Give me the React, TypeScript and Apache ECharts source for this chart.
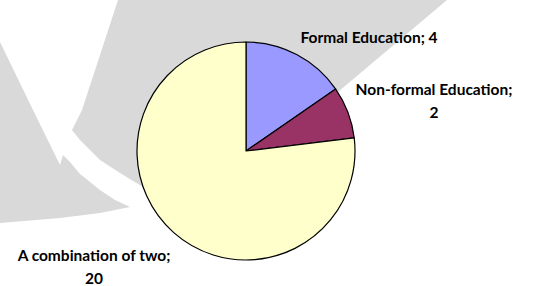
import React, { useEffect, useRef } from "react";
import * as echarts from "echarts";

const categories = ["Formal Education", "Non-formal Education", "A combination of two"];
const values = [4, 2, 20];
const colors = ["#9999ff", "#993366", "#ffffcc"];

export default function App() {
  const ref = useRef<HTMLDivElement>(null);
  useEffect(() => {
    document.body.style.margin = "0";
    const chart = echarts.init(ref.current!, null, { renderer: "svg" });
    const labelPos = [
      [369, 37],
      [434, 100],
      [94, 266],
    ];
    const gray = "#d9d9d9";
    chart.setOption({
      animation: false,
      backgroundColor: "#ffffff",
      graphic: [
        {
          type: "polygon",
          z: 0,
          silent: true,
          shape: {
            points: [
              [118, 0], [447, 0], [300, 124], [200, 200], [143, 187],
              [120, 173], [100, 160], [80, 140], [72, 130], [82, 110],
            ],
          },
          style: { fill: gray },
        },
        {
          type: "polygon",
          z: 0,
          silent: true,
          shape: {
            points: [
              [0, 42], [33, 110], [60, 165], [63, 155], [70, 162], [80, 174],
              [100, 190], [115, 200], [130, 207], [100, 213], [60, 218], [0, 223],
            ],
          },
          style: { fill: gray },
        },
      ],
      series: [
        {
          type: "pie",
          z: 2,
          center: [246, 151],
          radius: 109,
          startAngle: 90,
          clockwise: true,
          label: {
            show: true,
            position: "outside",
            alignTo: "none",
            overflow: "none",
            width: 300,
            color: "#000",
            fontFamily: "Lato",
            fontWeight: "bold",
            fontSize: 15.5,
            lineHeight: 23,
            align: "center",
            formatter: (p: any) =>
              p.dataIndex === 0 ? `${p.name}; ${p.value}` : `${p.name};\n${p.value}`,
          },
          labelLine: { show: false },
          labelLayout: (params: any) => {
            const pos = labelPos[params.dataIndex];
            return { x: pos[0], y: pos[1], align: "center", verticalAlign: "middle" };
          },
          itemStyle: { borderColor: "#000", borderWidth: 1.2 },
          emphasis: { disabled: true },
          data: categories.map((c, i) => ({
            name: c,
            value: values[i],
            itemStyle: { color: colors[i] },
          })),
        },
      ],
    });
    return () => chart.dispose();
  }, []);
  return <div ref={ref} style={{ width: 539, height: 286 }} />;
}
